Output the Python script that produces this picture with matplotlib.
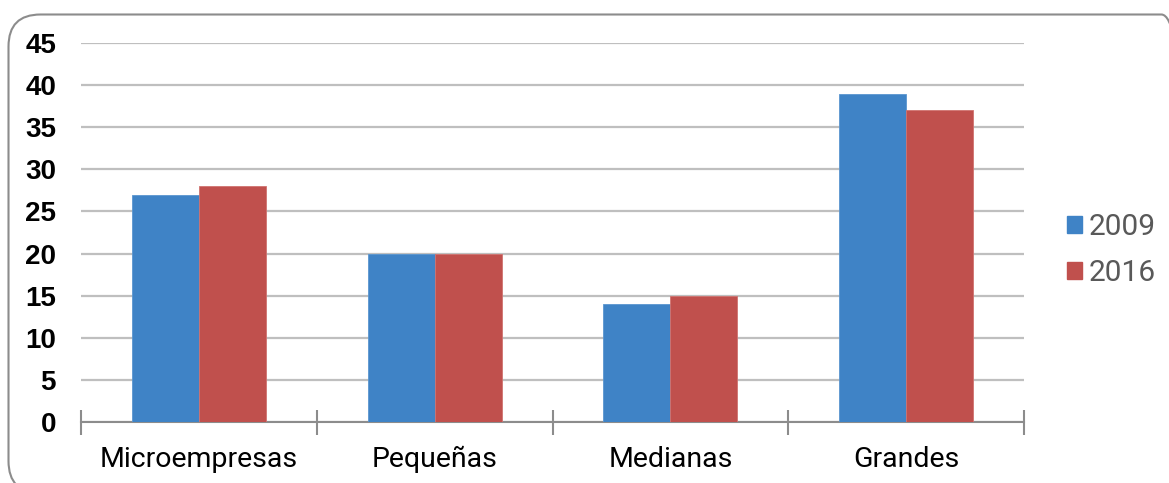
import matplotlib.pyplot as plt
import numpy as np
from matplotlib.patches import FancyBboxPatch, Patch

# tamaño de empresa vs porcentaje
categorias = ['Microempresas', 'Pequeñas', 'Medianas', 'Grandes']
serie_2009 = [27, 20, 14, 39]
serie_2016 = [28, 20, 15, 37]
years = ['2009', '2016']
y_ticks = [0, 5, 10, 15, 20, 25, 30, 35, 40, 45]

azul = '#3F83C6'
rojo = '#C0504D'

fig = plt.figure(figsize=(11.69, 4.83), dpi=100)
ax = fig.add_axes([0.0693, 0.1263, 0.8067, 0.7847])

# marco redondeado (en pixeles, se sale por la derecha y por abajo)
marco = FancyBboxPatch((8.5, -10), 1185, 478.5, boxstyle='round,pad=0,rounding_size=32',
                       transform=None, facecolor='none', edgecolor='#8C8C8C', linewidth=1.5)
fig.patches.append(marco)

x = np.arange(len(categorias))
w = 0.284
ax.bar(x - w / 2, serie_2009, w, color=azul, edgecolor='#5A96D0', linewidth=0.6, zorder=3)
ax.bar(x + w / 2, serie_2016, w, color=rojo, edgecolor='#D07370', linewidth=0.6, zorder=3)

ax.set_xlim(-0.5, len(categorias) - 0.5)
ax.set_ylim(0, 45)
ax.set_yticks(y_ticks)
ax.set_yticklabels([str(v) for v in y_ticks], fontsize=20, fontweight='bold',
                   family='Liberation Sans')
ax.tick_params(axis='y', length=0, pad=18)
ax.yaxis.grid(True, color='#BFBFBF', linewidth=1.6, zorder=0)
ax.set_axisbelow(True)

# ticks entre categorías
ax.set_xticks(np.arange(-0.5, len(categorias)), minor=False)
ax.set_xticklabels([])
ax.set_xticks(x, minor=True)
ax.set_xticklabels(categorias, minor=True, fontsize=20.5, family='Roboto')
ax.tick_params(axis='x', which='major', direction='inout', length=18, width=1.5, color='#8C8C8C')
ax.tick_params(axis='x', which='minor', length=0, pad=17)

for s in ['top', 'right', 'left']:
    ax.spines[s].set_visible(False)
ax.spines['bottom'].set_color('#8C8C8C')
ax.spines['bottom'].set_linewidth(1.5)

handles = [Patch(color=azul), Patch(color=rojo)]
leg = fig.legend(handles, years, loc='center left', bbox_to_anchor=(0.913, 0.482), frameon=False,
                 prop={'family': 'Roboto', 'size': 21.5}, handlelength=0.5, handleheight=0.5,
                 handletextpad=0.2, labelspacing=0.6, borderaxespad=0, borderpad=0)
for t in leg.get_texts():
    t.set_color('#595959')

fig.savefig('out.png', dpi=100)
